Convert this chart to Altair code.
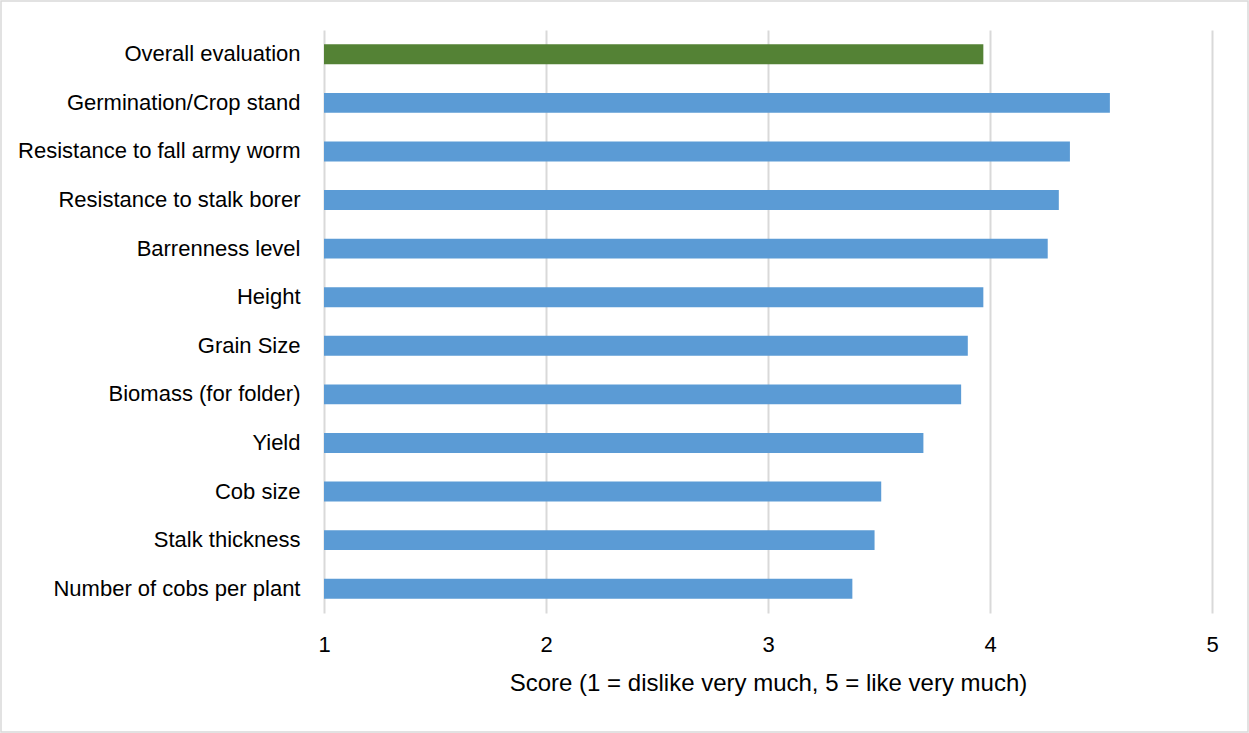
import altair as alt
import pandas as pd

categories = [
    "Overall evaluation",
    "Germination/Crop stand",
    "Resistance to fall army worm",
    "Resistance to stalk borer",
    "Barrenness level",
    "Height",
    "Grain Size",
    "Biomass (for folder)",
    "Yield",
    "Cob size",
    "Stalk thickness",
    "Number of cobs per plant",
]
scores = [3.97, 4.54, 4.36, 4.31, 4.26, 3.97, 3.90, 3.87, 3.70, 3.51, 3.48, 3.38]
groups = ["overall"] + ["attribute"] * 11

df = pd.DataFrame({"trait": categories, "score": scores, "group": groups, "base": [1] * len(categories)})

FONT = "Liberation Sans"

bars = alt.Chart(df).mark_bar().encode(
    y=alt.Y("trait:N", sort=categories,
            scale=alt.Scale(paddingInner=0.59, paddingOuter=0.295),
            axis=alt.Axis(title=None, labelFontSize=22, labelFont=FONT, labelColor="#000000",
                          ticks=False, domain=False, labelPadding=24, grid=False, labelLimit=0)),
    x=alt.X("score:Q", scale=alt.Scale(domain=[1, 5], nice=False, zero=False),
            axis=alt.Axis(values=[1, 2, 3, 4, 5], title="Score (1 = dislike very much, 5 = like very much)",
                          titleFontSize=24, titleFont=FONT, titleFontWeight="normal", titleColor="#000000",
                          labelFontSize=22, labelFont=FONT, labelColor="#000000", labelFlush=False,
                          ticks=False, domain=False, grid=True, gridColor="#d9d9d9", gridWidth=2,
                          labelPadding=21, titlePadding=16)),
    x2="base:Q",
    color=alt.Color("group:N", scale=alt.Scale(domain=["overall", "attribute"], range=["#548235", "#5b9bd5"]),
                    legend=None),
)

frame = alt.Chart(pd.DataFrame({"k": [0]})).mark_rect(fill=None, stroke="#d9d9d9", strokeWidth=1.5).encode(
    x=alt.value(-323), x2=alt.value(924), y=alt.value(-29), y2=alt.value(702)
)

chart = alt.layer(bars, frame).properties(
    width=888, height=583,
    autosize=alt.AutoSizeParams(type="none"),
    padding={"left": 324, "top": 30, "right": 37, "bottom": 120},
    background="white",
).configure_view(stroke=None)

chart.save("out.html", embed_options={"renderer": "svg", "actions": False})
